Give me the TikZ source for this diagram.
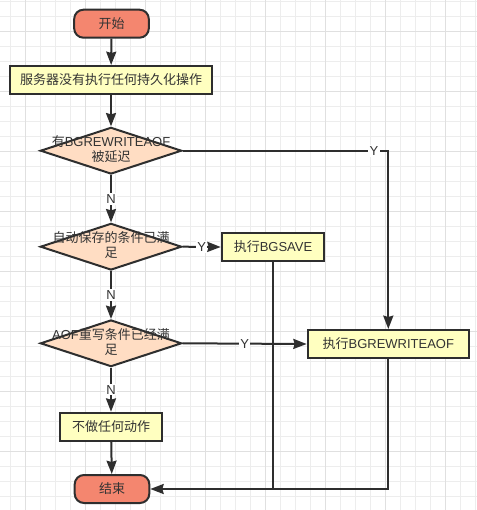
\documentclass[tikz,border=0pt]{standalone}
\usepackage{fontspec}
\setmainfont{Liberation Sans}
\newfontfamily\cjk{Noto Sans CJK SC}
\usepackage{tikz}
\usepackage{xcolor}
\usetikzlibrary{shapes.geometric, arrows.meta, positioning, calc}

\definecolor{linegray}{HTML}{2E2E2E}
\definecolor{textgray}{HTML}{333333}
\definecolor{termfill}{HTML}{F4866F}
\definecolor{boxfill}{HTML}{FFFFC0}
\definecolor{decfill}{HTML}{FFDDC3}
\newcommand{\lat}[1]{{\normalfont #1}}

\begin{document}
\begin{tikzpicture}[x=0.75pt, y=-0.75pt,
    every node/.style={text=textgray, font=\fontsize{9.75}{11.25}\selectfont\cjk},
    term/.style={draw=linegray, line width=1.5pt, fill=termfill, rounded corners=7pt,
        minimum width=56pt, minimum height=21pt},
    proc/.style={draw=linegray, line width=1.5pt, fill=boxfill, minimum height=21pt},
    decision/.style={diamond, draw=linegray, line width=1.5pt, fill=decfill,
        minimum width=106pt, minimum height=35pt, inner sep=0pt},
    dtext/.style={align=center, inner sep=0pt},
    yn/.style={fill=white, inner sep=1pt, font=\fontsize{9.75}{11}\selectfont},
    flow/.style={draw=linegray, line width=1.5pt},
    >={Stealth[length=10pt, width=7.5pt, inset=1pt]},
    gridline/.style={draw=black!7, line width=0.6pt},
    gridmajor/.style={draw=black!12, line width=0.6pt}]
\useasboundingbox[fill=white] (0,0) rectangle (477,510);

% background grid
\foreach \k in {0,...,31}
    \draw[gridline] ({10.7+15*\k},0) -- ({10.7+15*\k},510);
\foreach \k in {0,...,33}
    \draw[gridline] (0,{1+15*\k}) -- (477,{1+15*\k});
\foreach \k in {0,...,7}
    \draw[gridmajor] ({25.7+60*\k},0) -- ({25.7+60*\k},510);
\foreach \k in {0,...,7}
    \draw[gridmajor] (0,{31+60*\k}) -- (477,{31+60*\k});

% main column
\node[term] (start) at (111.5,23.7) {开始};
\node[proc, minimum width=152pt] (idle) at (111,80) {服务器没有执行任何持久化操作};
\node[decision] (d1) at (111,150.7) {};
\node[dtext] (d1t) at (111,149.5) {有\lat{BGREWRITEAOF}\\被延迟};
\node[decision] (d2) at (111,246.7) {};
\node[dtext] (d2t) at (111,245.5) {自动保存的条件已满\\足};
\node[decision] (d3) at (111,343.3) {};
\node[dtext] (d3t) at (111,342) {\lat{AOF}重写条件已经满\\足};
\node[proc, minimum width=77pt] (noop) at (111,426.7) {不做任何动作};
\node[term] (stop) at (112,489) {结束};

% actions
\node[proc, minimum width=77pt] (bgsave) at (273,247) {执行\lat{BGSAVE}};
\node[proc, minimum width=121pt] (rewrite) at (388.3,344) {执行\lat{BGREWRITEAOF}};

% connectors
\draw[flow, ->] (start) -- (idle);
\draw[flow, ->] (idle) -- (d1);
\draw[flow, ->] (d1) -- node[yn]{N} (d2);
\draw[flow, ->] (d1.east) -- node[yn, pos=0.93]{Y} (d1.east -| rewrite.north) -- (rewrite.north);
\draw[flow, ->] (d2.east) -- node[yn]{Y} (bgsave.west);
\draw[flow, ->] (d2) -- node[yn]{N} (d3);
\draw[flow, ->] (d3.east) -- node[yn]{Y} (rewrite.west);
\draw[flow, ->] (d3) -- node[yn]{N} (noop);
\draw[flow, ->] (noop) -- (stop);
\draw[flow] (bgsave.south) -- (bgsave.south |- stop.east);
\draw[flow, ->] (rewrite.south) -- (rewrite.south |- stop.east) -- (stop.east);
\end{tikzpicture}
\end{document}
